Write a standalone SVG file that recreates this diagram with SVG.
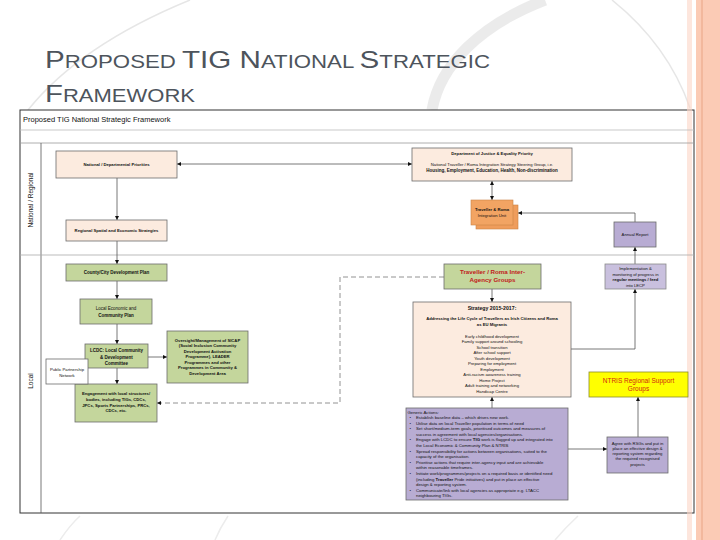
<svg xmlns="http://www.w3.org/2000/svg" width="720" height="540" viewBox="0 0 720 540">
<defs>
<marker id="ah" markerWidth="4" markerHeight="4" refX="4" refY="2" orient="auto-start-reverse" markerUnits="userSpaceOnUse">
<path d="M0,0 L4,2 L0,4 Z" fill="#111"/>
</marker>
<style>
text{font-family:"Liberation Sans",Arial,sans-serif;fill:#111}
.t{text-anchor:middle}
.b{font-weight:bold}
.peach{fill:#FCEBDF;stroke:#6b6b6b;stroke-width:0.8}
.green{fill:#C4D69C;stroke:#6b6b6b;stroke-width:0.8}
.purple{fill:#B8ACD3;stroke:#6b6b6b;stroke-width:0.8}
.lpurple{fill:#C9C0DE;stroke:#8a8a8a;stroke-width:0.8}
.conn{fill:none;stroke:#555;stroke-width:0.8}
.dash{fill:none;stroke:#777;stroke-width:0.8;stroke-dasharray:5,3}
.s42{font-size:4.2px}
.s45{font-size:4.5px}
.gen{font-size:4.3px}
</style>
</defs>
<rect width="720" height="540" fill="#fff"/>
<!-- decorative background -->
<path d="M190 0 Q 80 45 28 110" fill="none" stroke="#e6e6e6" stroke-width="1.5"/>
<path d="M612 0 Q 668 45 690 108" fill="none" stroke="#e6e6e6" stroke-width="1.5"/>
<path d="M545 0 C 480 25 440 65 432 110" fill="none" stroke="#d8d8d8" stroke-width="11" opacity="0.5"/>
<path d="M60 540 Q 70 525 80 516" fill="none" stroke="#ececec" stroke-width="1.5"/>
<path d="M215 540 Q 220 528 228 516" fill="none" stroke="#ececec" stroke-width="1.5"/>
<path d="M555 540 Q 565 528 578 516" fill="none" stroke="#ececec" stroke-width="1.5"/>
<rect x="696" y="0" width="24" height="540" fill="#FBCBB5"/>
<line x1="702" y1="0" x2="702" y2="540" stroke="#E9A585" stroke-width="1"/>
<!-- title -->
<text x="45" y="68" style="fill:#4D545C" textLength="445" lengthAdjust="spacingAndGlyphs"><tspan font-size="24">P</tspan><tspan font-size="18">ROPOSED </tspan><tspan font-size="24">TIG N</tspan><tspan font-size="18">ATIONAL </tspan><tspan font-size="24">S</tspan><tspan font-size="18">TRATEGIC</tspan></text>
<text x="45" y="102" style="fill:#4D545C" textLength="150" lengthAdjust="spacingAndGlyphs"><tspan font-size="24">F</tspan><tspan font-size="18">RAMEWORK</tspan></text>
<!-- frame -->
<g id="frame">
<rect x="20" y="110" width="674" height="403" fill="#fff" stroke="#333" stroke-width="1"/>
<rect x="687" y="0" width="5" height="540" fill="#FBD6C6" opacity="0.6"/>
<text x="23" y="121.5" font-size="7.5">Proposed TIG National Strategic Framework</text>
<line x1="20" y1="130" x2="694" y2="130" stroke="#bbb" stroke-width="0.8"/>
<line x1="20" y1="143" x2="694" y2="143" stroke="#999" stroke-width="0.8"/>
<line x1="41" y1="143" x2="41" y2="513" stroke="#555" stroke-width="0.8"/>
<line x1="20" y1="255" x2="694" y2="255" stroke="#aaa" stroke-width="0.8"/>
<text class="t" font-size="6.5" transform="translate(33,200) rotate(-90)">National / Regional</text>
<text class="t" font-size="6.5" transform="translate(33,381) rotate(-90)">Local</text>
</g>
<!-- connectors -->
<g id="connectors">
<line class="conn" x1="177" y1="164" x2="412" y2="164" stroke="#222" marker-start="url(#ah)" marker-end="url(#ah)"/>
<line class="conn" x1="117" y1="178" x2="117" y2="220" marker-end="url(#ah)"/>
<line class="conn" x1="117" y1="241" x2="117" y2="264" marker-end="url(#ah)"/>
<line class="conn" x1="117" y1="281" x2="117" y2="299" marker-end="url(#ah)"/>
<line class="conn" x1="117" y1="324" x2="117" y2="344" marker-end="url(#ah)"/>
<line class="conn" x1="117" y1="368" x2="117" y2="384" marker-end="url(#ah)"/>
<line class="conn" x1="148" y1="357" x2="167" y2="357" marker-end="url(#ah)"/>
<line class="conn" x1="492" y1="181" x2="492" y2="200" marker-start="url(#ah)" marker-end="url(#ah)"/>
<path class="conn" d="M635 222 V213 H518" marker-end="url(#ah)"/>
<line class="conn" x1="635" y1="264" x2="635" y2="247" marker-end="url(#ah)"/>
<path class="conn" d="M571 349 H635 V289" marker-end="url(#ah)"/>
<line class="conn" x1="492" y1="289" x2="492" y2="302" marker-end="url(#ah)"/>
<line class="conn" x1="492" y1="408" x2="492" y2="397" marker-end="url(#ah)"/>
<path class="dash" d="M444 277 H340 V403 H157" marker-end="url(#ah)"/>
<line class="conn" x1="568" y1="449" x2="607" y2="449" marker-end="url(#ah)"/>
<line class="conn" x1="638" y1="437" x2="638" y2="397" marker-end="url(#ah)"/>
</g>
<!-- nodes -->
<g id="national-priorities">
<rect class="peach" x="56" y="151" width="121" height="27"/>
<text class="t b s42" x="116.5" y="166">National / Departmental Priorities</text>
</g>
<g id="regional-strategies">
<rect class="peach" x="66" y="220" width="101" height="21"/>
<text class="t b s42" x="116.5" y="232">Regional Spatial and Economic Strategies</text>
</g>
<g id="doj-priority">
<rect class="peach" x="412" y="148" width="160" height="33"/>
<text class="t b s42" x="492" y="154.5">Department of Justice &amp; Equality Priority</text>
<text class="t s42" x="492" y="165.5">National Traveller / Roma Integration Strategy Steering Group, i.e.</text>
<text class="t b s45" x="492" y="171.5">Housing, Employment, Education, Health, Non-discrimination</text>
</g>
<g id="integration-unit">
<rect x="476" y="205" width="42" height="24" fill="#EF9D5C" stroke="#C98245" stroke-width="0.6"/>
<rect x="471" y="200" width="42" height="25" fill="#F2A463" stroke="#C98245" stroke-width="0.6"/>
<text class="t b s42" x="492" y="210.5">Traveller &amp; Roma</text>
<text class="t s42" x="492" y="216.5">Integration Unit</text>
</g>
<g id="annual-report">
<rect class="purple" x="614" y="222" width="42" height="25"/>
<text class="t s42" x="635" y="236">Annual Report</text>
</g>
<g id="county-plan">
<rect class="green" x="66" y="264" width="101" height="17"/>
<text class="t b s45" x="116.5" y="274">County/City Development Plan</text>
</g>
<g id="lecp">
<rect class="green" x="80" y="299" width="72" height="25"/>
<text class="t s45" x="116" y="309.5">Local Economic and</text>
<text class="t b s45" x="116" y="316.5">Community Plan</text>
</g>
<g id="lcdc">
<rect class="green" x="85" y="344" width="63" height="24"/>
<text class="t b s45" x="116.5" y="352">LCDC: Local Community</text>
<text class="t b s45" x="116.5" y="358.5">&amp; Development</text>
<text class="t b s45" x="116.5" y="365">Committee</text>
</g>
<g id="oversight">
<rect class="green" x="167" y="331" width="81" height="52"/>
<text class="t b s42" x="207.5" y="341.5">Oversight/Management of SICAP</text>
<text class="t b s42" x="207.5" y="347">(Social Inclusion Community</text>
<text class="t b s42" x="207.5" y="352.5">Development Activation</text>
<text class="t b s42" x="207.5" y="358">Programme), LEADER</text>
<text class="t b s42" x="207.5" y="363.5">Programmes and other</text>
<text class="t b s42" x="207.5" y="369">Programmes in Community &amp;</text>
<text class="t b s42" x="207.5" y="374.5">Development Area</text>
</g>
<g id="engagement">
<rect class="green" x="75" y="384" width="82" height="38"/>
<text class="t b s42" x="116" y="395">Engagement with local structures/</text>
<text class="t b s42" x="116" y="400.5">bodies, including TIGs, CDCs,</text>
<text class="t b s42" x="116" y="406.5">JPCs, Sports Partnerships, PRCs,</text>
<text class="t b s42" x="116" y="412">CDCs, etc.</text>
</g>
<g id="public-partnership">
<rect x="46" y="359" width="42" height="25" fill="#fff" stroke="#6b6b6b" stroke-width="0.8"/>
<text class="t s42" x="67" y="370.5">Public Partnership</text>
<text class="t s42" x="67" y="376.5">Network</text>
</g>
<g id="inter-agency">
<rect class="green" x="444" y="264" width="97" height="25"/>
<text class="t b" x="492.5" y="274" font-size="6.2" style="fill:#C0201A">Traveller / Roma Inter-</text>
<text class="t b" x="492.5" y="282" font-size="6.2" style="fill:#C0201A">Agency Groups</text>
</g>
<g id="strategy">
<rect class="peach" x="413" y="302" width="158" height="95"/>
<text class="t b" x="492" y="310" font-size="5.2">Strategy 2015-2017:</text>
<text class="t b s42" x="492" y="319.5">Addressing the Life Cycle of Travellers as Irish Citizens and Roma</text>
<text class="t b s42" x="492" y="325.5">as EU Migrants</text>
<text class="t s42" x="492" y="337.5">Early childhood development</text>
<text class="t s42" x="492" y="343">Family support around schooling</text>
<text class="t s42" x="492" y="348.5">School transition</text>
<text class="t s42" x="492" y="354">After school support</text>
<text class="t s42" x="492" y="359.5">Youth development</text>
<text class="t s42" x="492" y="365">Preparing for employment</text>
<text class="t s42" x="492" y="370.5">Employment</text>
<text class="t s42" x="492" y="376">Anti-racism awareness training</text>
<text class="t s42" x="492" y="381.5">Home Project</text>
<text class="t s42" x="492" y="387">Adult training and networking</text>
<text class="t s42" x="492" y="392.5">Handicap Centre</text>
</g>
<g id="implementation">
<rect class="lpurple" x="605" y="264" width="61" height="25"/>
<text class="t s42" x="635.5" y="270">Implementation &amp;</text>
<text class="t s42" x="635.5" y="275.5">monitoring of progress in</text>
<text class="t b s42" x="635.5" y="281">regular meetings / feed</text>
<text class="t s42" x="635.5" y="286.5">into LECP</text>
</g>
<g id="ntris-rsg">
<rect x="589" y="372" width="99" height="25" fill="#FFFF00" stroke="#8C8C2A" stroke-width="0.8"/>
<text class="t" x="638.5" y="382.5" font-size="6.5" style="fill:#D02A10">NTRIS Regional Support</text>
<text class="t" x="638.5" y="391" font-size="6.5" style="fill:#D02A10">Groups</text>
</g>
<g id="generic-actions">
<rect class="purple" x="406" y="408" width="162" height="92"/>
<text class="gen" x="407.5" y="413.5">Generic Actions:</text>
<g class="gen">
<text class="gen" x="409.5" y="419">•</text><text class="gen" x="416" y="419">Establish baseline data – which drives new work.</text>
<text class="gen" x="409.5" y="424.6">•</text><text class="gen" x="416" y="424.6">Utilise data on local Traveller population in terms of need</text>
<text class="gen" x="409.5" y="430.2">•</text><text class="gen" x="416" y="430.2">Set short/medium-term goals, prioritised outcomes and measures of</text>
<text class="gen" x="416" y="435.8">success in agreement with local agencies/organisations.</text>
<text class="gen" x="409.5" y="441.4">•</text><text class="gen" x="416" y="441.4">Engage with LCDC to ensure <tspan font-weight="bold">TIG</tspan> work is flagged up and integrated into</text>
<text class="gen" x="416" y="447">the Local Economic &amp; Community Plan &amp; NTRIS</text>
<text class="gen" x="409.5" y="452.6">•</text><text class="gen" x="416" y="452.6">Spread responsibility for actions between organisations, suited to the</text>
<text class="gen" x="416" y="458.2">capacity of the organisation.</text>
<text class="gen" x="409.5" y="463.8">•</text><text class="gen" x="416" y="463.8">Prioritise actions that require inter-agency input and are achievable</text>
<text class="gen" x="416" y="469.4">within reasonable timeframes.</text>
<text class="gen" x="409.5" y="475">•</text><text class="gen" x="416" y="475">Initiate work/programmes/projects on a required basis or identified need</text>
<text class="gen" x="416" y="480.6">(including <tspan font-weight="bold">Traveller</tspan> Pride initiatives) and put in place an effective</text>
<text class="gen" x="416" y="486.2">design &amp; reporting system.</text>
<text class="gen" x="409.5" y="491.8">•</text><text class="gen" x="416" y="491.8">Communicate/link with local agencies as appropriate e.g. LTACC</text>
<text class="gen" x="416" y="497.4">neighbouring TIGs.</text>
</g>
</g>
<g id="agree-rsgs">
<rect class="purple" x="607" y="437" width="61" height="36"/>
<text class="t s42" x="637.5" y="444.5">Agree with RSGs and put in</text>
<text class="t s42" x="637.5" y="449.8">place an effective design &amp;</text>
<text class="t s42" x="637.5" y="455.1">reporting system regarding</text>
<text class="t s42" x="637.5" y="460.4">the required recognised</text>
<text class="t s42" x="637.5" y="465.7">projects</text>
</g>
</svg>
